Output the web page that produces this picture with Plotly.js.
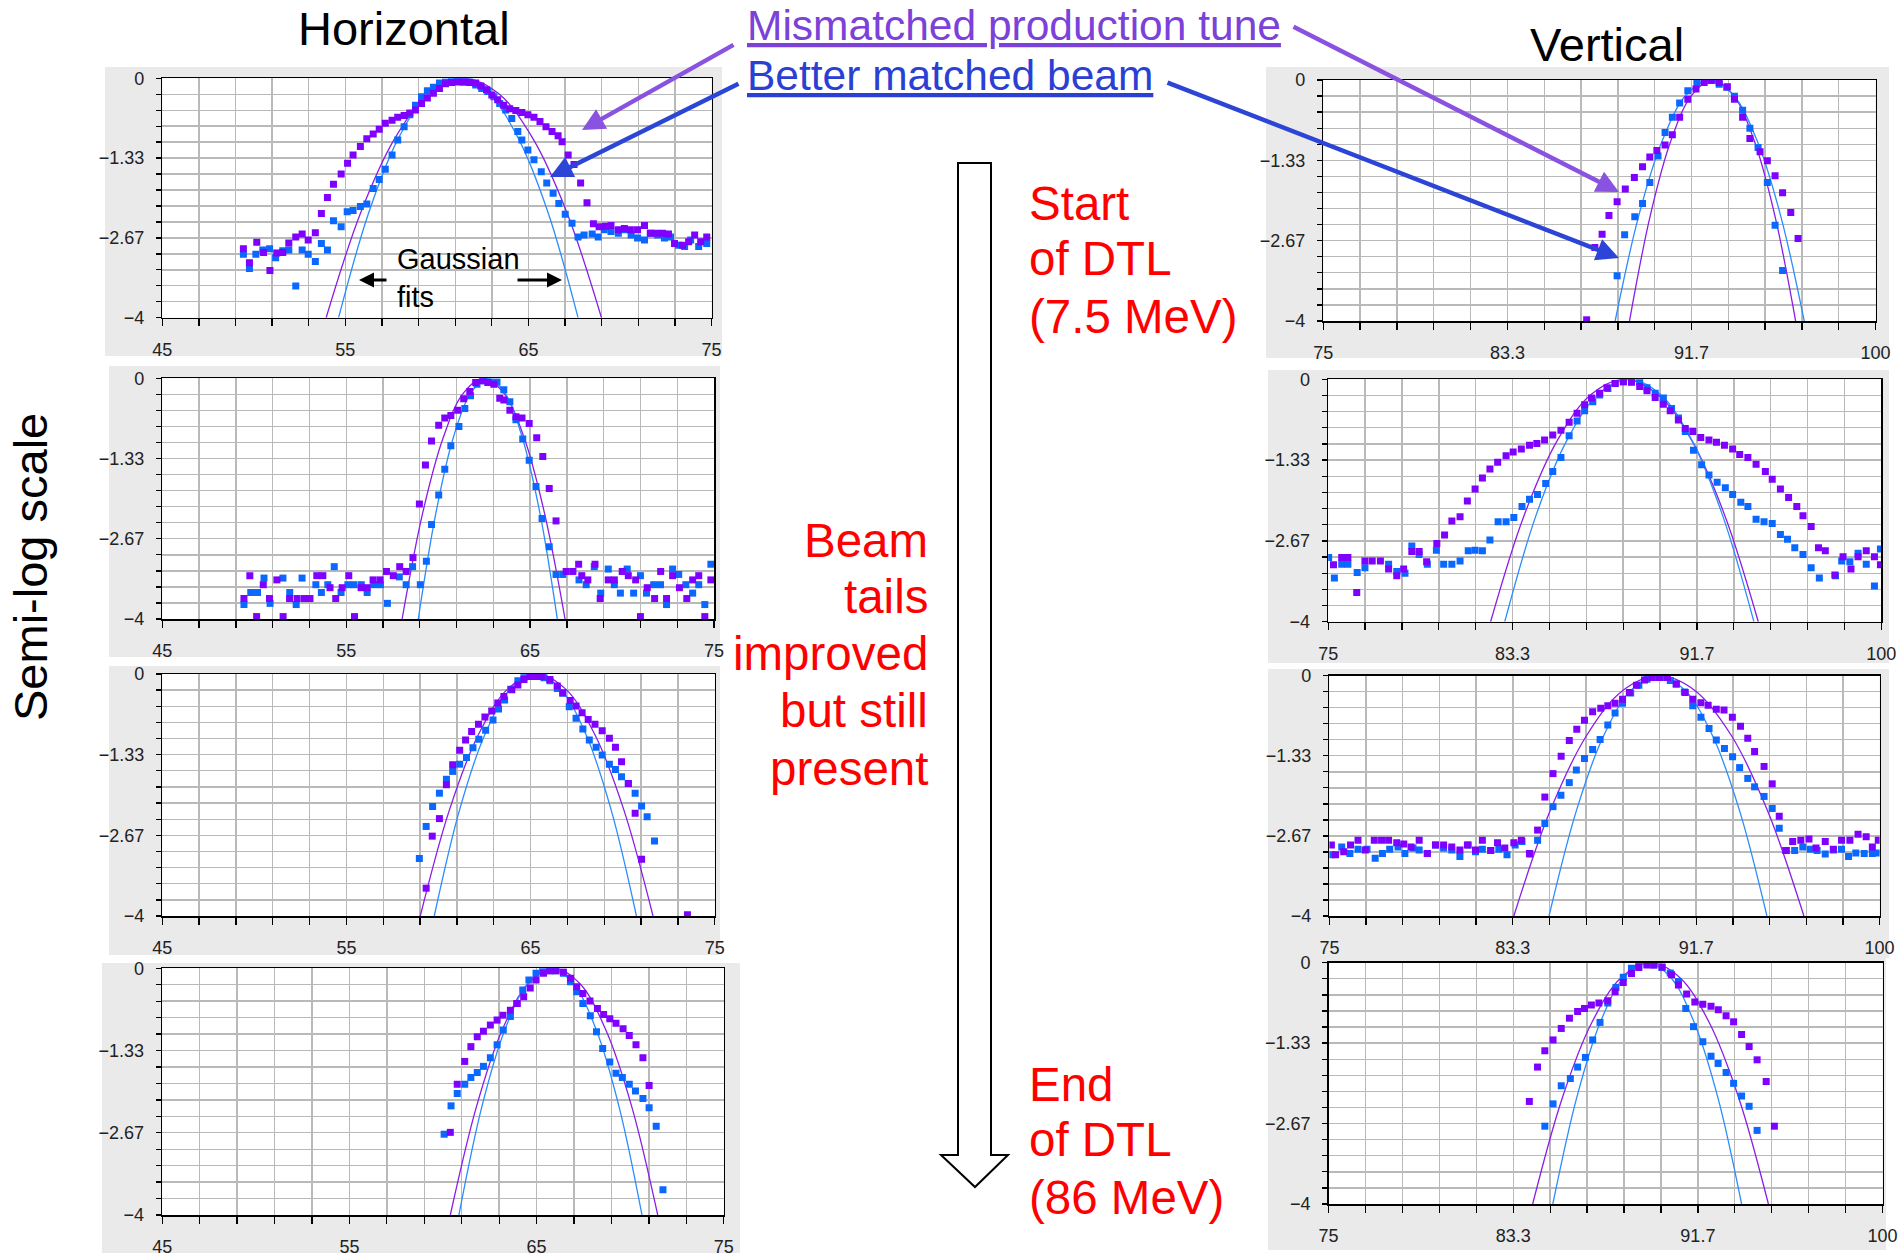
<!DOCTYPE html>
<html>
<head>
<meta charset="utf-8">
<script src="https://cdn.plot.ly/plotly-3.0.1.min.js"></script>
<style>
html,body{margin:0;padding:0;background:#ffffff;}
#chart{width:1900px;height:1259px;}
</style>
</head>
<body>
<div id="chart"></div>
<script>
// ---------------- DATA (log10 of normalised profile vs position) ----------------
// Horizontal, station 1 (start of DTL)
const h1MisX = [49.43,49.76,50.16,50.53,50.88,51.25,51.58,51.91,52.29,52.64,52.97,53.36,53.69,54.02,54.35,54.77,55.12,55.42,55.82,56.17,56.52,56.85,57.18,57.55,57.86,58.21,58.52,58.83,59.16,59.48,59.81,60.14,60.47,60.80,61.13,61.46,61.79,62.12,62.40,62.71,63.00,63.32,63.65,63.98,64.31,64.64,64.97,65.30,65.63,65.96,66.29,66.62,66.84,67.17,67.49,67.85,68.20,68.55,68.86,69.21,69.51,69.91,70.24,70.57,70.96,71.34,71.66,71.99,72.32,72.65,72.98,73.42,73.75,74.08,74.41,74.74];
const h1MisY = [-2.85,-3.08,-2.74,-2.91,-3.21,-2.92,-2.91,-2.75,-2.65,-2.60,-2.70,-2.58,-2.26,-1.99,-1.77,-1.60,-1.42,-1.28,-1.14,-1.01,-0.93,-0.85,-0.75,-0.70,-0.65,-0.62,-0.58,-0.53,-0.42,-0.33,-0.25,-0.17,-0.09,-0.07,-0.06,-0.06,-0.07,-0.08,-0.13,-0.19,-0.28,-0.36,-0.45,-0.51,-0.54,-0.57,-0.61,-0.65,-0.72,-0.81,-0.89,-0.96,-1.06,-1.28,-1.44,-1.75,-2.08,-2.43,-2.48,-2.47,-2.46,-2.53,-2.51,-2.53,-2.53,-2.46,-2.59,-2.59,-2.59,-2.60,-2.76,-2.79,-2.73,-2.62,-2.73,-2.65];
const h1BetX = [49.43,49.76,50.11,50.49,50.86,51.19,51.58,51.91,52.29,52.64,52.97,53.36,53.69,54.02,54.35,54.77,55.10,55.42,55.82,56.17,56.52,56.85,57.18,57.55,57.86,58.21,58.52,58.83,59.16,59.48,59.81,60.14,60.47,60.80,61.13,61.46,61.79,62.12,62.45,62.78,63.11,63.43,63.76,64.09,64.42,64.64,64.97,65.30,65.70,66.00,66.35,66.66,67.01,67.38,67.71,68.04,68.48,68.81,69.14,69.51,69.91,70.24,70.61,70.96,71.34,71.66,72.06,72.43,72.76,73.20,73.53,73.86,74.30,74.74];
const h1BetY = [-2.94,-3.18,-2.94,-2.87,-2.85,-3.00,-2.88,-2.87,-3.47,-2.87,-2.94,-3.06,-2.76,-2.87,-2.38,-2.48,-2.23,-2.21,-2.14,-2.10,-1.84,-1.69,-1.52,-1.28,-1.03,-0.81,-0.61,-0.45,-0.31,-0.21,-0.15,-0.08,-0.06,-0.04,-0.04,-0.06,-0.06,-0.11,-0.17,-0.22,-0.31,-0.42,-0.53,-0.67,-0.89,-1.03,-1.20,-1.36,-1.56,-1.75,-1.92,-2.09,-2.27,-2.42,-2.65,-2.62,-2.60,-2.65,-2.53,-2.56,-2.59,-2.53,-2.62,-2.67,-2.70,-2.59,-2.62,-2.67,-2.65,-2.79,-2.81,-2.70,-2.81,-2.76];
const h1MisFitX = [53.95,55.83,57.71,59.59,61.47,63.35,65.23,67.11,68.99];
const h1BetFitX = [54.63,56.27,57.90,59.54,61.17,62.81,64.44,66.08,67.71];

// Horizontal, station 2
const h2MisX = [49.44,49.76,50.13,50.49,50.83,51.23,51.57,51.92,52.33,52.72,53.03,53.40,53.73,54.12,54.43,54.78,55.14,55.45,55.81,56.14,56.46,56.84,57.19,57.56,57.91,58.26,58.63,58.98,59.31,59.64,60.03,60.36,60.69,61.06,61.39,61.72,62.04,62.41,62.70,63.03,63.35,63.57,63.90,64.23,64.56,64.95,65.36,65.69,66.04,66.41,66.96,67.33,67.64,67.81,68.14,68.53,68.81,69.25,69.58,70.01,70.34,70.74,71.00,71.37,71.77,72.10,72.42,72.75,73.12,73.52,73.84,74.17,74.50,74.83];
const h2MisY = [-3.66,-3.28,-3.96,-3.43,-3.66,-3.35,-3.96,-3.66,-3.66,-3.66,-3.66,-3.28,-3.28,-3.48,-3.66,-3.48,-3.28,-3.96,-3.48,-3.48,-3.35,-3.35,-3.21,-3.28,-3.13,-3.21,-2.98,-2.09,-1.44,-1.04,-0.78,-0.66,-0.62,-0.53,-0.34,-0.22,-0.07,-0.04,-0.07,-0.10,-0.33,-0.36,-0.53,-0.64,-0.66,-0.75,-0.99,-1.30,-1.83,-2.37,-3.21,-3.21,-3.09,-3.28,-3.35,-3.09,-3.66,-3.35,-3.35,-3.21,-3.28,-3.35,-3.96,-3.48,-3.66,-3.21,-3.66,-3.28,-3.48,-3.66,-3.35,-3.28,-3.96,-3.35];
const h2BetX = [49.44,49.81,50.18,50.53,50.86,51.56,51.93,52.28,52.60,53.35,53.65,54.00,54.35,54.72,55.09,55.42,55.82,56.14,56.49,56.86,57.24,57.89,58.26,58.61,59.03,59.36,59.64,60.03,60.36,60.69,61.13,61.45,61.76,62.11,62.48,62.81,63.20,63.57,63.90,64.23,64.60,64.95,65.32,65.65,66.04,66.41,66.78,67.66,68.05,68.49,68.84,69.25,69.58,69.91,70.28,70.63,71.00,71.33,71.72,72.09,72.42,72.75,73.08,73.47,73.84,74.17,74.50,74.83];
const h2BetY = [-3.76,-3.56,-3.56,-3.32,-3.74,-3.32,-3.56,-3.76,-3.32,-3.43,-3.56,-3.43,-3.13,-3.56,-3.43,-3.43,-3.43,-3.56,-3.43,-3.43,-3.74,-3.30,-3.43,-3.13,-3.43,-3.04,-2.43,-1.94,-1.51,-1.12,-0.80,-0.50,-0.29,-0.10,-0.04,-0.06,-0.06,-0.19,-0.39,-0.69,-1.01,-1.36,-1.80,-2.33,-2.80,-3.26,-3.26,-3.35,-3.43,-3.13,-3.57,-3.17,-3.43,-3.57,-3.17,-3.57,-3.28,-3.57,-3.43,-3.43,-3.76,-3.17,-3.26,-3.43,-3.57,-3.43,-3.76,-3.09];
const h2MisFitX = [58.04,59.15,60.26,61.36,62.47,63.58,64.69,65.79,66.90];
const h2BetFitX = [58.92,59.87,60.81,61.76,62.70,63.65,64.59,65.54,66.48];

// Horizontal, station 3
const h3MisX = [59.33,59.66,60.05,60.43,60.77,61.15,61.47,61.80,62.17,62.52,62.89,63.22,63.55,63.98,64.31,64.64,64.96,65.29,65.62,66.05,66.45,66.75,67.15,67.47,67.80,68.13,68.50,68.89,69.28,69.61,69.94,70.31,70.68,71.03,73.52];
const h3MisY = [-3.54,-2.68,-2.39,-1.83,-1.50,-1.26,-1.09,-0.95,-0.83,-0.71,-0.61,-0.48,-0.37,-0.26,-0.18,-0.09,-0.04,-0.04,-0.04,-0.09,-0.20,-0.31,-0.44,-0.53,-0.64,-0.75,-0.83,-0.94,-1.06,-1.21,-1.45,-1.81,-2.30,-3.06,-3.98];
const h3BetX = [58.96,59.33,59.68,60.05,60.43,60.77,61.15,61.52,61.87,62.19,62.56,62.96,63.26,63.59,63.92,64.31,64.64,65.01,65.36,65.73,66.05,66.45,66.75,67.10,67.47,67.84,68.19,68.56,68.89,69.28,69.61,69.94,70.31,70.68,71.03,71.33,71.73];
const h3BetY = [-3.05,-2.52,-2.19,-1.97,-1.74,-1.61,-1.49,-1.38,-1.22,-1.08,-0.93,-0.76,-0.58,-0.43,-0.25,-0.11,-0.06,-0.03,-0.03,-0.06,-0.11,-0.24,-0.32,-0.54,-0.73,-0.91,-1.09,-1.21,-1.34,-1.49,-1.58,-1.70,-1.81,-1.97,-2.18,-2.36,-2.76];
const h3MisFitX = [59.01,60.59,62.17,63.75,65.33,66.91,68.49,70.07,71.65];
const h3BetFitX = [59.77,61.14,62.52,63.89,65.26,66.63,68.01,69.38,70.75];

// Horizontal, station 4 (end of DTL)
const h4MisX = [60.39,60.76,61.16,61.49,61.83,62.16,62.53,62.89,63.20,63.60,63.97,64.31,64.66,64.97,65.37,65.70,66.03,66.43,66.81,67.14,67.47,67.85,68.25,68.58,68.91,69.24,69.62,69.95,70.31,70.68,71.01];
const h4MisY = [-2.66,-1.88,-1.51,-1.27,-1.11,-1.02,-0.92,-0.84,-0.76,-0.68,-0.57,-0.46,-0.32,-0.19,-0.08,-0.04,-0.04,-0.06,-0.16,-0.30,-0.41,-0.53,-0.65,-0.75,-0.82,-0.89,-0.98,-1.09,-1.24,-1.45,-1.90];
const h4BetX = [60.06,60.43,60.76,61.16,61.49,61.83,62.16,62.53,62.89,63.22,63.60,63.93,64.26,64.59,64.97,65.32,65.70,66.03,66.43,66.81,67.14,67.47,67.87,68.20,68.53,68.91,69.24,69.58,69.95,70.28,70.68,71.01,71.39,71.75];
const h4BetY = [-2.69,-2.23,-2.03,-1.88,-1.77,-1.69,-1.59,-1.45,-1.24,-1.00,-0.78,-0.57,-0.35,-0.19,-0.08,-0.04,-0.04,-0.04,-0.08,-0.22,-0.38,-0.57,-0.77,-1.03,-1.30,-1.52,-1.70,-1.77,-1.88,-1.99,-2.11,-2.26,-2.56,-3.59];
const h4MisFitX = [60.39,61.78,63.16,64.55,65.93,67.32,68.70,70.09,71.47];
const h4BetFitX = [60.85,62.07,63.30,64.52,65.74,66.96,68.19,69.41,70.63];

// Vertical, station 1
const v1MisX = [86.92,87.29,87.62,87.93,88.30,88.67,89.08,89.45,89.78,90.10,90.47,90.80,91.13,91.50,91.87,92.24,92.55,92.92,93.29,93.61,93.98,94.31,94.77,95.10,95.45,95.79,96.16,96.49];
const v1MisY = [-3.98,-2.78,-2.56,-2.25,-2.02,-1.81,-1.62,-1.44,-1.28,-1.17,-1.08,-0.91,-0.62,-0.32,-0.15,-0.04,-0.01,-0.04,-0.11,-0.32,-0.62,-0.97,-1.19,-1.34,-1.59,-1.87,-2.20,-2.63];
const v1BetX = [88.30,88.64,89.10,89.45,89.78,90.15,90.47,90.80,91.13,91.50,91.91,92.24,92.61,92.92,93.26,93.61,93.98,94.31,94.68,95.10,95.45,95.79];
const v1BetY = [-3.25,-2.57,-2.27,-2.05,-1.70,-1.26,-0.87,-0.62,-0.38,-0.18,-0.04,-0.01,-0.01,-0.07,-0.12,-0.27,-0.50,-0.80,-1.12,-1.70,-2.41,-3.16];
const v1MisFitX = [88.86,89.80,90.74,91.68,92.62,93.56,94.50,95.44,96.38];
const v1BetFitX = [88.21,89.28,90.35,91.42,92.49,93.56,94.63,95.70,96.77];

// Vertical, station 2
const v2MisX = [75.24,75.61,75.89,76.29,76.66,76.99,77.36,77.73,78.10,78.41,78.78,79.11,79.45,79.91,80.26,80.59,80.96,81.29,81.64,81.97,82.31,82.66,83.04,83.36,83.73,84.10,84.43,84.78,85.15,85.52,85.89,86.25,86.59,86.90,87.27,87.60,87.97,88.34,88.71,89.08,89.41,89.78,90.15,90.46,90.83,91.14,91.48,91.84,92.21,92.55,92.91,93.28,93.60,93.97,94.34,94.76,95.07,95.44,95.81,96.18,96.46,96.83,97.16,97.47,97.90,98.27,98.63,98.95,99.32,99.69,99.96];
const v2MisY = [-3.06,-2.94,-2.94,-3.52,-3.00,-3.00,-3.00,-3.13,-3.24,-3.13,-2.84,-2.84,-3.01,-2.71,-2.57,-2.34,-2.27,-2.01,-1.81,-1.63,-1.48,-1.37,-1.26,-1.20,-1.15,-1.09,-1.06,-1.00,-0.92,-0.84,-0.71,-0.56,-0.42,-0.31,-0.23,-0.14,-0.07,-0.04,-0.05,-0.12,-0.19,-0.30,-0.41,-0.52,-0.67,-0.81,-0.86,-0.96,-1.00,-1.04,-1.09,-1.15,-1.24,-1.29,-1.40,-1.52,-1.65,-1.81,-1.95,-2.10,-2.25,-2.43,-2.78,-2.83,-3.23,-2.93,-3.13,-2.93,-2.83,-2.93,-3.06];
const v2BetX = [75.02,75.28,75.61,75.89,76.31,76.66,77.73,78.10,78.47,78.78,79.11,79.48,79.89,80.22,80.59,80.96,81.33,81.64,81.97,82.31,82.68,83.04,83.39,83.76,84.10,84.46,84.83,85.15,85.52,85.89,86.25,86.59,86.96,87.27,87.64,87.97,88.34,88.71,89.08,89.41,89.78,90.15,90.52,90.83,91.14,91.51,91.88,92.21,92.58,92.95,93.28,93.65,93.97,94.34,94.70,95.07,95.44,95.76,96.09,96.46,96.83,97.20,97.93,98.21,98.58,98.95,99.32,99.69,99.96];
const v2BetY = [-2.94,-3.28,-3.05,-3.05,-3.19,-3.11,-3.05,-3.17,-3.20,-2.75,-2.89,-3.05,-2.82,-3.05,-3.05,-3.00,-2.83,-2.82,-2.83,-2.65,-2.35,-2.35,-2.28,-2.10,-1.98,-1.90,-1.72,-1.52,-1.29,-0.93,-0.69,-0.52,-0.37,-0.26,-0.15,-0.07,-0.04,-0.04,-0.05,-0.14,-0.23,-0.31,-0.48,-0.64,-0.86,-1.17,-1.41,-1.58,-1.70,-1.79,-1.90,-2.03,-2.10,-2.31,-2.35,-2.38,-2.56,-2.64,-2.78,-2.89,-3.11,-3.28,-3.24,-3.00,-3.01,-2.87,-3.05,-3.41,-2.80];
const v2MisFitX = [82.34,83.85,85.37,86.88,88.39,89.90,91.42,92.93,94.44];
const v2BetFitX = [82.98,84.39,85.80,87.20,88.61,90.02,91.43,92.83,94.24];

// Vertical, station 3
const v3MisX = [75.09,75.28,75.65,75.96,76.30,76.63,77.04,77.37,77.69,78.06,78.38,78.71,79.08,79.45,79.82,80.19,80.56,80.93,81.27,81.64,81.95,82.33,82.64,82.97,83.38,83.72,84.09,84.46,84.79,85.16,85.53,85.90,86.24,86.59,86.96,87.33,87.65,87.98,88.32,88.63,88.95,89.32,89.65,89.99,90.36,90.76,91.17,91.51,91.88,92.21,92.58,92.93,93.31,93.68,94.01,94.32,94.75,95.12,95.44,95.73,96.05,96.42,96.79,97.11,97.53,97.90,98.27,98.65,99.02,99.39,99.67,99.94];
const v3MisY = [-2.82,-2.98,-2.93,-2.82,-2.74,-2.90,-2.74,-2.74,-2.74,-2.78,-2.80,-2.85,-2.74,-2.96,-2.82,-2.82,-2.85,-2.90,-2.82,-2.90,-2.74,-2.91,-2.78,-2.87,-2.78,-2.74,-2.96,-2.57,-2.02,-1.63,-1.34,-1.08,-0.89,-0.74,-0.60,-0.54,-0.50,-0.46,-0.39,-0.28,-0.16,-0.07,-0.03,-0.03,-0.03,-0.14,-0.28,-0.39,-0.45,-0.49,-0.56,-0.57,-0.69,-0.84,-1.04,-1.26,-1.51,-1.80,-2.34,-2.91,-2.76,-2.74,-2.72,-2.87,-2.76,-2.89,-2.74,-2.74,-2.64,-2.68,-2.85,-2.74];
const v3BetX = [75.09,75.56,75.93,76.30,76.71,77.08,77.41,77.74,78.12,78.43,78.80,79.08,79.45,79.82,80.19,80.56,80.93,81.31,81.64,81.95,82.33,82.70,83.07,83.44,83.75,84.12,84.46,84.79,85.16,85.52,85.90,86.22,86.59,86.96,87.30,87.65,87.98,88.32,88.69,89.06,89.43,89.74,90.11,90.49,90.76,91.13,91.51,91.88,92.25,92.58,92.95,93.32,93.64,94.01,94.32,94.75,95.12,95.44,95.77,96.14,96.51,96.85,97.16,97.53,97.90,98.27,98.59,98.92,99.30,99.67,99.94];
const v3BetY = [-2.98,-2.85,-2.96,-2.89,-2.89,-3.04,-2.96,-2.89,-2.85,-2.96,-2.87,-2.90,-2.96,-2.82,-2.87,-2.90,-3.01,-2.82,-2.93,-2.89,-2.91,-2.89,-2.98,-2.82,-2.76,-2.97,-2.74,-2.46,-2.18,-1.99,-1.78,-1.57,-1.38,-1.23,-1.06,-0.82,-0.62,-0.46,-0.29,-0.16,-0.06,-0.03,-0.03,-0.08,-0.14,-0.27,-0.50,-0.69,-0.88,-1.07,-1.21,-1.35,-1.53,-1.71,-1.85,-2.01,-2.21,-2.54,-2.91,-2.91,-2.85,-2.89,-2.91,-2.97,-2.90,-2.89,-3.01,-2.95,-2.96,-2.96,-2.95];
const v3MisFitX = [83.38,85.03,86.68,88.32,89.97,91.62,93.27,94.91,96.56];
const v3BetFitX = [84.98,86.22,87.46,88.69,89.93,91.17,92.41,93.64,94.88];

// Vertical, station 4 (end of DTL)
const v4MisX = [84.06,84.43,84.76,85.13,85.50,85.87,86.24,86.55,86.86,87.20,87.60,87.93,88.30,88.67,89.00,89.37,89.68,90.05,90.48,90.79,91.16,91.53,91.89,92.26,92.59,92.94,93.28,93.64,93.98,94.34,94.75,95.12];
const v4MisY = [-2.30,-1.73,-1.46,-1.28,-1.09,-0.92,-0.81,-0.76,-0.70,-0.67,-0.63,-0.48,-0.33,-0.18,-0.08,-0.04,-0.04,-0.07,-0.20,-0.37,-0.52,-0.65,-0.69,-0.72,-0.78,-0.88,-0.98,-1.19,-1.39,-1.61,-1.97,-2.71];
const v4BetX = [84.76,85.13,85.50,85.91,86.24,86.59,86.92,87.25,87.60,87.97,88.30,88.67,89.00,89.37,89.68,90.05,90.42,90.79,91.12,91.47,91.89,92.26,92.58,92.94,93.28,93.64,93.98,94.34];
const v4BetY = [-2.71,-2.34,-2.04,-1.92,-1.73,-1.57,-1.28,-0.99,-0.67,-0.41,-0.24,-0.09,-0.06,-0.02,-0.04,-0.08,-0.17,-0.31,-0.76,-1.06,-1.31,-1.55,-1.67,-1.82,-2.00,-2.21,-2.38,-2.78];
const v4MisFitX = [84.21,85.54,86.87,88.20,89.53,90.86,92.19,93.52,94.85];
const v4BetFitX = [85.12,86.19,87.25,88.32,89.38,90.45,91.51,92.58,93.64];

// Log level (same levels for every fit)
const fitY = [-4,-2.25,-1,-0.25,0,-0.25,-1,-2.25,-4];

// ---------------- LAYOUT ----------------
const W = 1900, H = 1259;
const fx = p => p / W;
const fy = p => 1 - p / H;
const FONT = 'Liberation Sans, Arial, Helvetica, sans-serif';
const MIS_MARK = '#8000ff', BET_MARK = '#0a68ff';
const MIS_LINE = '#8a1ee6', BET_LINE = '#2a8cff';
const GRID = '#b9b9b9';

const panels = [
  {kind:'h', mx:h1MisX, my:h1MisY, bx:h1BetX, by:h1BetY, mf:h1MisFitX, bf:h1BetFitX, plot:[162.3,78.3,711.5,317.7], gray:[105,67,722,356]},
  {kind:'h', mx:h2MisX, my:h2MisY, bx:h2BetX, by:h2BetY, mf:h2MisFitX, bf:h2BetFitX, plot:[162.3,378.3,714,619], gray:[109,366,720,657]},
  {kind:'h', mx:h3MisX, my:h3MisY, bx:h3BetX, by:h3BetY, mf:h3MisFitX, bf:h3BetFitX, plot:[162.3,674,714.7,916], gray:[109,666,720,955]},
  {kind:'h', mx:h4MisX, my:h4MisY, bx:h4BetX, by:h4BetY, mf:h4MisFitX, bf:h4BetFitX, plot:[162.2,968.3,723.8,1215], gray:[102,963,740,1253]},
  {kind:'v', mx:v1MisX, my:v1MisY, bx:v1BetX, by:v1BetY, mf:v1MisFitX, bf:v1BetFitX, plot:[1323.3,80,1875.6,321], gray:[1266,67,1889,358]},
  {kind:'v', mx:v2MisX, my:v2MisY, bx:v2BetX, by:v2BetY, mf:v2MisFitX, bf:v2BetFitX, plot:[1328.2,379.3,1881.3,621.7], gray:[1268,370,1889,663]},
  {kind:'v', mx:v3MisX, my:v3MisY, bx:v3BetX, by:v3BetY, mf:v3MisFitX, bf:v3BetFitX, plot:[1329.4,675.7,1879.6,916], gray:[1268,669,1889,958]},
  {kind:'v', mx:v4MisX, my:v4MisY, bx:v4BetX, by:v4BetY, mf:v4MisFitX, bf:v4BetFitX, plot:[1328.6,962.7,1882.5,1204], gray:[1268,958,1886,1250]}
];

const traces = [];
const shapes = [];
const layout = {
  width: W, height: H,
  margin: {l:0, r:0, t:0, b:0},
  paper_bgcolor: '#ffffff',
  plot_bgcolor: 'rgba(0,0,0,0)',
  showlegend: false,
  font: {family: FONT}
};

const tickFont = {family: 'Liberation Sans, Arial, sans-serif', size: 18, color: '#222222'};

panels.forEach((p, i) => {
  const k = i + 1;
  const xs = k === 1 ? '' : String(k);
  const xRef = 'x' + xs, yRef = 'y' + xs;
  const isH = p.kind === 'h';

  // panel backgrounds: gray screenshot frame, then white plot area
  shapes.push({type:'rect', xref:'paper', yref:'paper', layer:'below',
    x0: fx(p.gray[0]), x1: fx(p.gray[2]), y0: fy(p.gray[3]), y1: fy(p.gray[1]),
    fillcolor:'#eaeaea', line:{width:0}});
  shapes.push({type:'rect', xref:'paper', yref:'paper', layer:'below',
    x0: fx(p.plot[0]), x1: fx(p.plot[2]), y0: fy(p.plot[3]), y1: fy(p.plot[1]),
    fillcolor:'#ffffff', line:{width:0}});

  layout['xaxis' + xs] = {
    domain: [fx(p.plot[0]), fx(p.plot[2])],
    anchor: yRef,
    range: isH ? [45, 75] : [75, 100],
    tickmode: 'linear',
    tick0: isH ? 45 : 75,
    dtick: isH ? 10 : 25 / 3,
    tickformat: isH ? 'd' : '.1~f',
    ticks: 'outside', ticklen: 7, tickwidth: 1.3, tickcolor: '#000',
    showgrid: true, gridcolor: GRID, gridwidth: 1.4,
    minor: {tick0: isH ? 45 : 75, dtick: isH ? 2 : 25 / 15, ticks: 'outside', ticklen: 7,
            tickwidth: 1.3, tickcolor: '#000', showgrid: true, gridcolor: GRID, gridwidth: 1.4},
    showline: true, linecolor: '#000', linewidth: 1.5, mirror: true,
    zeroline: false, tickfont: tickFont, ticklabelstandoff: 8, fixedrange: true
  };
  layout['yaxis' + xs] = {
    domain: [fy(p.plot[3]), fy(p.plot[1])],
    anchor: xRef,
    range: [-4, 0],
    tickmode: 'linear', tick0: 0, dtick: 4 / 3, tickformat: '.2~f',
    ticks: 'outside', ticklen: 5, tickwidth: 1.3, tickcolor: '#000',
    showgrid: true, gridcolor: GRID, gridwidth: 1.4,
    minor: {tick0: 0, dtick: 4 / 15, ticks: 'outside', ticklen: 5, tickwidth: 1.3,
            tickcolor: '#000', showgrid: true, gridcolor: GRID, gridwidth: 1.4},
    showline: true, linecolor: '#000', linewidth: 1.5, mirror: true,
    zeroline: false, tickfont: tickFont, ticklabelstandoff: 8, fixedrange: true
  };

  traces.push({x: p.mf, y: fitY, xaxis: xRef, yaxis: yRef, mode: 'lines',
    line: {color: MIS_LINE, width: 1.3, shape: 'spline', smoothing: 1}, hoverinfo: 'skip',
    name: 'Gaussian fit (mismatched)'});
  traces.push({x: p.bf, y: fitY, xaxis: xRef, yaxis: yRef, mode: 'lines',
    line: {color: BET_LINE, width: 1.3, shape: 'spline', smoothing: 1}, hoverinfo: 'skip',
    name: 'Gaussian fit (better matched)'});
  traces.push({x: p.bx, y: p.by, xaxis: xRef, yaxis: yRef, mode: 'markers',
    marker: {symbol: 'square', size: 7, color: BET_MARK}, hoverinfo: 'skip',
    name: 'Better matched beam'});
  traces.push({x: p.mx, y: p.my, xaxis: xRef, yaxis: yRef, mode: 'markers',
    marker: {symbol: 'square', size: 7, color: MIS_MARK}, hoverinfo: 'skip',
    name: 'Mismatched production tune'});
});

// hollow downward arrow in the middle
const arrowPts = [[958,163],[991,163],[991,1155],[1008,1155],[975,1187],[941,1155],[958,1155]];
shapes.push({type:'path', xref:'paper', yref:'paper', layer:'above',
  path: 'M ' + arrowPts.map(q => fx(q[0]) + ',' + fy(q[1])).join(' L ') + ' Z',
  fillcolor:'#ffffff', line:{color:'#000000', width:2}});
layout.shapes = shapes;

function txt(text, x, y, size, color, xanchor, extra) {
  return Object.assign({text: text, xref:'paper', yref:'paper', x: fx(x), y: fy(y),
    xanchor: xanchor || 'center', yanchor: 'middle', showarrow: false,
    font: {family: FONT, size: size, color: color}}, extra || {});
}
function arrow(tipX, tipY, tailX, tailY, color, width) {
  return {text: '', xref:'paper', yref:'paper', x: fx(tipX), y: fy(tipY),
    ax: tailX - tipX, ay: tailY - tipY, showarrow: true,
    arrowhead: 2, arrowsize: 1, arrowwidth: width, arrowcolor: color};
}

const RED = '#ff0000';
const PURPLE_TXT = '#7b41d8', BLUE_TXT = '#2b3fd2';
layout.annotations = [
  txt('Horizontal', 404, 28, 47, '#000000'),
  txt('Vertical', 1607, 45, 47, '#000000'),
  txt('Mismatched production tune', 745, 25, 42.5, PURPLE_TXT, 'left', {font:{family:FONT, size:42.5, color:PURPLE_TXT, lineposition:'under'}}),
  txt('Better matched beam', 745, 75, 42.5, BLUE_TXT, 'left', {font:{family:FONT, size:42.5, color:BLUE_TXT, lineposition:'under'}}),
  arrow(582, 130, 735, 44, '#8a52e0', 4.5),
  arrow(550, 177, 740, 83, '#2d45d6', 4.5),
  arrow(1619, 192, 1292, 26, '#8a52e0', 4.5),
  arrow(1619, 258, 1166, 82, '#2d45d6', 4.5),
  txt('Gaussian', 395, 259, 29, '#000000', 'left'),
  txt('fits', 395, 297, 29, '#000000', 'left'),
  arrow(359, 280, 388, 280, '#000000', 3),
  arrow(562, 280, 516, 280, '#000000', 3),
  txt('Start', 1027, 204, 47.5, RED, 'left'),
  txt('of DTL', 1027, 259, 47.5, RED, 'left'),
  txt('(7.5 MeV)', 1027, 316, 47.5, RED, 'left'),
  txt('Beam', 930, 540, 47.5, RED, 'right'),
  txt('tails', 930, 596, 47.5, RED, 'right'),
  txt('improved', 930, 653, 47.5, RED, 'right'),
  txt('but still', 930, 710, 47.5, RED, 'right'),
  txt('present', 930, 768, 47.5, RED, 'right'),
  txt('End', 1027, 1084, 47.5, RED, 'left'),
  txt('of DTL', 1027, 1139, 47.5, RED, 'left'),
  txt('(86 MeV)', 1027, 1197, 47.5, RED, 'left'),
  txt('Semi-log scale', 30, 567, 47, '#000000', 'center', {textangle: -90})
];

Plotly.newPlot('chart', traces, layout, {displayModeBar: false, staticPlot: true});
</script>
</body>
</html>
